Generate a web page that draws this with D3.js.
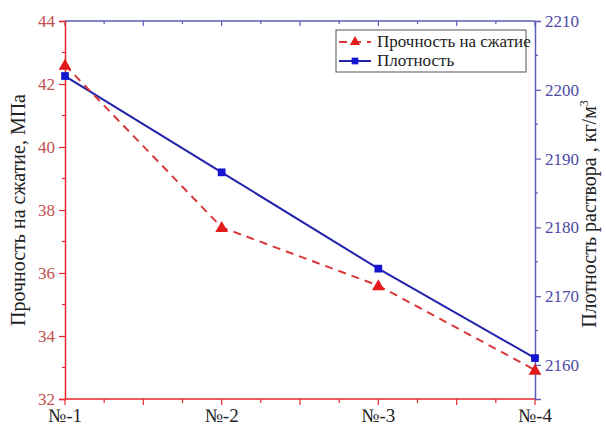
<!DOCTYPE html>
<html>
<head>
<meta charset="utf-8">
<script src="https://cdn.jsdelivr.net/npm/d3@7"></script>
</head>
<body style="margin:0">
<script>
// data
const categories = ['№-1', '№-2', '№-3', '№-4'];
const strength = [42.6, 37.45, 35.6, 32.92];   // МПа, left axis
const density = [2202, 2188, 2174, 2161];      // кг/м3, right axis
const leftTicks = [32, 34, 36, 38, 40, 42, 44];
const rightTicks = [2160, 2170, 2180, 2190, 2200, 2210];

const W = 606, H = 428;
const margin = { top: 21, right: 71, bottom: 29, left: 65 };
const width = W - margin.left - margin.right;
const height = H - margin.top - margin.bottom;
const FONT = '"Liberation Serif", Tinos, "Times New Roman", FreeSerif, serif';

const red = '#e8262b', redText = '#c0504d', redLine = '#d9383a';
const blueAxis = '#5b5bb8', blueText = '#4a4aa6', blueLine = '#2222aa';

const svg = d3.select('body').append('svg')
  .attr('width', W)
  .attr('height', H)
  .attr('font-family', FONT);

const g = svg.append('g')
  .attr('transform', `translate(${margin.left},${margin.top})`);

const x = d3.scaleLinear().domain([0, categories.length - 1]).range([0, width]);
const yL = d3.scaleLinear().domain([32, 44]).range([height, 0]);
const yR = d3.scaleLinear().domain([2155.05, 2210]).range([height, 0]);

// quarter steps along x for the small ticks
const xMinor = d3.range(0, categories.length - 1 + 0.001, 0.25);

// Bottom axis (red)
const bottomAxis = g.append('g').attr('transform', `translate(0,${height})`);
bottomAxis.append('line').attr('x1', 0).attr('x2', width).attr('stroke', red).attr('stroke-width', 1.5);
bottomAxis.selectAll('.bt').data(xMinor).enter().append('line')
  .attr('x1', d => x(d)).attr('x2', d => x(d))
  .attr('y1', 0).attr('y2', d => (d % 0.5 === 0 ? 6 : 4))
  .attr('stroke', red).attr('stroke-width', 1.2);
bottomAxis.selectAll('.bl').data(categories).enter().append('text')
  .attr('x', (d, i) => x(i)).attr('y', 23)
  .attr('text-anchor', 'middle')
  .attr('font-size', 19)
  .attr('fill', '#222')
  .text(d => d);

// Top axis (blue), ticks point inward
const topAxis = g.append('g');
topAxis.append('line').attr('x1', 0).attr('x2', width).attr('stroke', blueAxis).attr('stroke-width', 1.5);
topAxis.selectAll('.tt').data(xMinor).enter().append('line')
  .attr('x1', d => x(d)).attr('x2', d => x(d))
  .attr('y1', 0).attr('y2', d => (d % 0.5 === 0 ? 5 : 3))
  .attr('stroke', blueAxis).attr('stroke-width', 1.2);

// Left axis (red)
const leftAxis = g.append('g')
  .call(d3.axisLeft(yL).tickValues(leftTicks).tickSize(6).tickPadding(4).tickFormat(d3.format('d')))
  .attr('font-family', FONT);
leftAxis.select('.domain').attr('stroke', red).attr('stroke-width', 1.5);
leftAxis.selectAll('.tick line').attr('stroke', red).attr('stroke-width', 1.2);
leftAxis.selectAll('.tick text').attr('fill', redText).attr('font-size', 17);
g.append('g').selectAll('line').data(d3.range(33, 44, 2)).enter().append('line')
  .attr('x1', -3).attr('x2', 0)
  .attr('y1', d => yL(d)).attr('y2', d => yL(d))
  .attr('stroke', red).attr('stroke-width', 1.2);

// Right axis (blue)
const rightAxis = g.append('g').attr('transform', `translate(${width},0)`)
  .call(d3.axisRight(yR).tickValues(rightTicks).tickSize(6).tickPadding(4).tickFormat(d3.format('d')))
  .attr('font-family', FONT);
rightAxis.select('.domain').attr('stroke', blueAxis).attr('stroke-width', 1.5);
rightAxis.selectAll('.tick line').attr('stroke', blueAxis).attr('stroke-width', 1.2);
rightAxis.selectAll('.tick text').attr('fill', blueText).attr('font-size', 17);
g.append('g').attr('transform', `translate(${width},0)`)
  .selectAll('line').data(d3.range(2165, 2210, 10)).enter().append('line')
  .attr('x1', 0).attr('x2', 3)
  .attr('y1', d => yR(d)).attr('y2', d => yR(d))
  .attr('stroke', blueAxis).attr('stroke-width', 1.2);

// Axis titles
svg.append('text')
  .attr('transform', `translate(25,${margin.top + height / 2}) rotate(-90)`)
  .attr('text-anchor', 'middle')
  .attr('font-size', 20)
  .attr('fill', '#222')
  .text('Прочность на сжатие, МПа');

const rt = svg.append('text')
  .attr('transform', `translate(596,${margin.top + height / 2 + 4}) rotate(-90)`)
  .attr('text-anchor', 'middle')
  .attr('font-size', 20)
  .attr('fill', '#222');
rt.append('tspan').text('Плотность раствора , кг/м');
rt.append('tspan').attr('dy', -8).attr('font-size', 12).text('3');

// Lines
const lineL = d3.line().x((d, i) => x(i)).y(d => yL(d));
const lineR = d3.line().x((d, i) => x(i)).y(d => yR(d));

g.append('path').datum(density)
  .attr('d', lineR).attr('fill', 'none')
  .attr('stroke', blueLine).attr('stroke-width', 2);

g.append('path').datum(strength)
  .attr('d', lineL).attr('fill', 'none')
  .attr('stroke', redLine).attr('stroke-width', 2)
  .attr('stroke-dasharray', '8,6');

// Markers
const tri = d3.symbol().type(d3.symbolTriangle).size(70);
const sq = d3.symbol().type(d3.symbolSquare).size(60);

g.selectAll('.sq').data(density).enter().append('path')
  .attr('d', sq)
  .attr('transform', (d, i) => `translate(${x(i)},${yR(d)})`)
  .attr('fill', '#1414d0');

g.selectAll('.tri').data(strength).enter().append('path')
  .attr('d', tri)
  .attr('transform', (d, i) => `translate(${x(i)},${yL(d) + 1})`)
  .attr('fill', '#e31a1c');

// Legend
const lg = svg.append('g').attr('transform', 'translate(336,30)');
lg.append('rect').attr('width', 190).attr('height', 42)
  .attr('fill', '#fff').attr('stroke', '#555').attr('stroke-width', 1);

const legendItems = [
  { name: 'Прочность на сжатие', color: redLine, dash: '8,6', sym: tri, mcolor: '#e31a1c', y: 12 },
  { name: 'Плотность', color: blueLine, dash: null, sym: sq, mcolor: '#1414d0', y: 31 }
];
legendItems.forEach(it => {
  lg.append('line').attr('x1', 3).attr('x2', 35).attr('y1', it.y).attr('y2', it.y)
    .attr('stroke', it.color).attr('stroke-width', 2)
    .attr('stroke-dasharray', it.dash);
  lg.append('path').attr('d', it.sym.size(45)())
    .attr('transform', `translate(19,${it.y})`)
    .attr('fill', it.mcolor);
  lg.append('text').attr('x', 41).attr('y', it.y + 5)
    .attr('font-size', 17).attr('fill', '#222')
    .text(it.name);
});

svg.selectAll('text').style('font-family', FONT);
</script>
</body>
</html>
